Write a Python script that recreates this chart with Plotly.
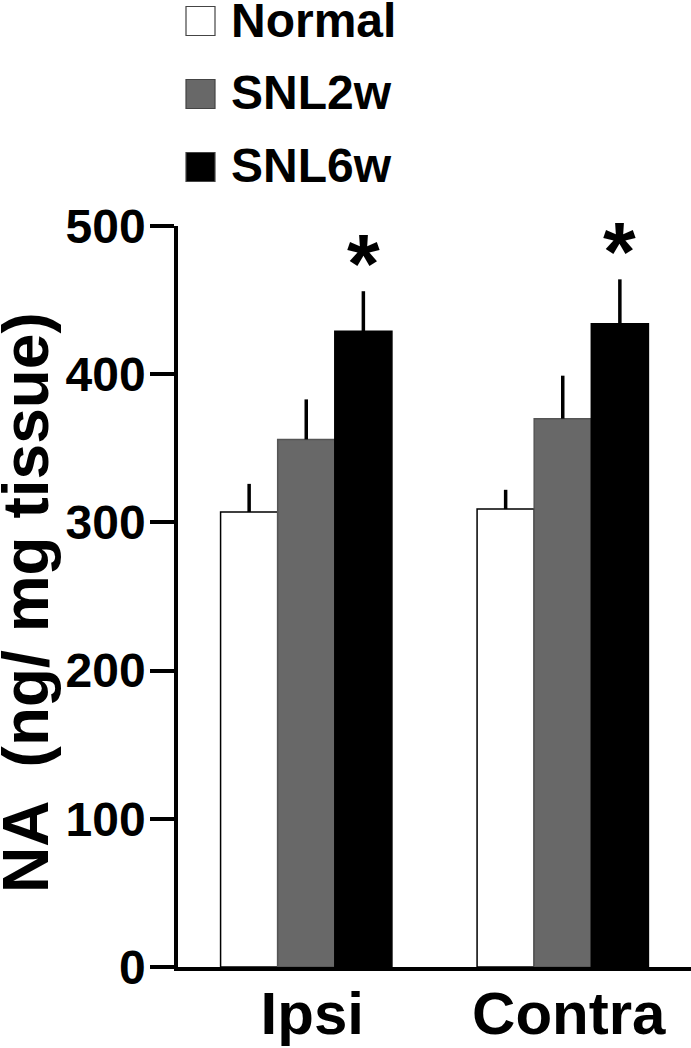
import plotly.graph_objects as go

categories = ["Ipsi", "Contra"]
groups = ["Normal", "SNL2w", "SNL6w"]
values = {
    "Normal": [307, 309],
    "SNL2w": [356, 370],
    "SNL6w": [429, 434],
}
errors = {
    "Normal": [19, 13],
    "SNL2w": [27, 29],
    "SNL6w": [27, 30],
}
colors = {"Normal": "#ffffff", "SNL2w": "#686868", "SNL6w": "#000000"}
outlines = {"Normal": "#000000", "SNL2w": "#555555", "SNL6w": "#000000"}
significant = {"SNL6w": [True, True]}
y_ticks = [0, 100, 200, 300, 400, 500]
y_title = "NA  (ng/ mg tissue)"

FONT = "Liberation Sans, Arial, sans-serif"
W, H = 691, 1048
ML, MR, MT, MB = 178, 0, 226, 81
BARGAP = 0.332

fig = go.Figure()
for g in groups:
    fig.add_trace(go.Bar(
        name=g, x=list(range(len(categories))), y=values[g],
        marker=dict(color=colors[g], line=dict(color=outlines[g], width=1.5)),
        error_y=dict(type="data", symmetric=False, array=errors[g],
                     arrayminus=[0] * len(categories), color="#000000",
                     thickness=3.5, width=0),
        showlegend=False,
    ))

# significance asterisks above SNL6w bars
bw = (1 - BARGAP) / len(groups)
gi = groups.index("SNL6w")
for i, cat in enumerate(categories):
    if significant["SNL6w"][i]:
        fig.add_annotation(
            x=i - (1 - BARGAP) / 2 + bw * (gi + 0.5),
            y=values["SNL6w"][i] + errors["SNL6w"][i],
            xref="x", yref="y", text="<b>*</b>", showarrow=False,
            yanchor="bottom", yshift=-22,
            font=dict(family=FONT, size=84, color="#000000"),
        )

pw = W - ML - MR
ph = H - MT - MB
def px2x(px):
    return (px - ML) / pw
def py2y(py):
    return (H - MB - py) / ph

# manual legend
legend_rows = [21, 94, 167]
for g, cy in zip(groups, legend_rows):
    fig.add_shape(type="rect", xref="paper", yref="paper",
                  x0=px2x(186), x1=px2x(215), y0=py2y(cy - 14.5), y1=py2y(cy + 14.5),
                  fillcolor=colors[g], line=dict(color="#444444", width=1.2))
    fig.add_annotation(x=px2x(229), y=py2y(cy - 1), xref="paper", yref="paper",
                       text="<b>%s</b>" % g, showarrow=False,
                       xanchor="left", yanchor="middle",
                       font=dict(family=FONT, size=48, color="#000000"))

# y axis title
fig.add_annotation(x=px2x(26), y=py2y(603), xref="paper", yref="paper",
                   text="<b>%s</b>" % y_title, showarrow=False, textangle=-90,
                   xanchor="center", yanchor="middle",
                   font=dict(family=FONT, size=64, color="#000000"))

fig.update_layout(
    width=W, height=H, autosize=False,
    margin=dict(l=ML, r=MR, t=MT, b=MB, pad=0),
    paper_bgcolor="#ffffff", plot_bgcolor="#ffffff",
    barmode="group", bargap=BARGAP, bargroupgap=0,
    showlegend=False,
    font=dict(family=FONT, color="#000000"),
)
fig.update_xaxes(
    range=[-0.5, 1.5], tickmode="array", tickvals=list(range(len(categories))),
    ticktext=["<b>%s</b>" % c for c in categories],
    tickfont=dict(family=FONT, size=60, color="#000000"),
    ticklabelstandoff=-9, ticklabelshift=6,
    showline=True, linecolor="#000000", linewidth=3.5, ticks="",
    showgrid=False, zeroline=False, fixedrange=True, automargin=False,
)
fig.update_yaxes(
    range=[0, 500], tickmode="array", tickvals=y_ticks,
    ticktext=["<b>%d</b>" % v for v in y_ticks],
    tickfont=dict(family=FONT, size=48, color="#000000"),
    ticklabelstandoff=-5,
    showline=True, linecolor="#000000", linewidth=3.5,
    ticks="outside", ticklen=24, tickwidth=3.5, tickcolor="#000000",
    showgrid=False, zeroline=False, automargin=False, fixedrange=True,
)

fig.write_html("out.html", config={"displayModeBar": False},
               post_script="document.body.style.margin='0';document.body.style.overflow='hidden';")
